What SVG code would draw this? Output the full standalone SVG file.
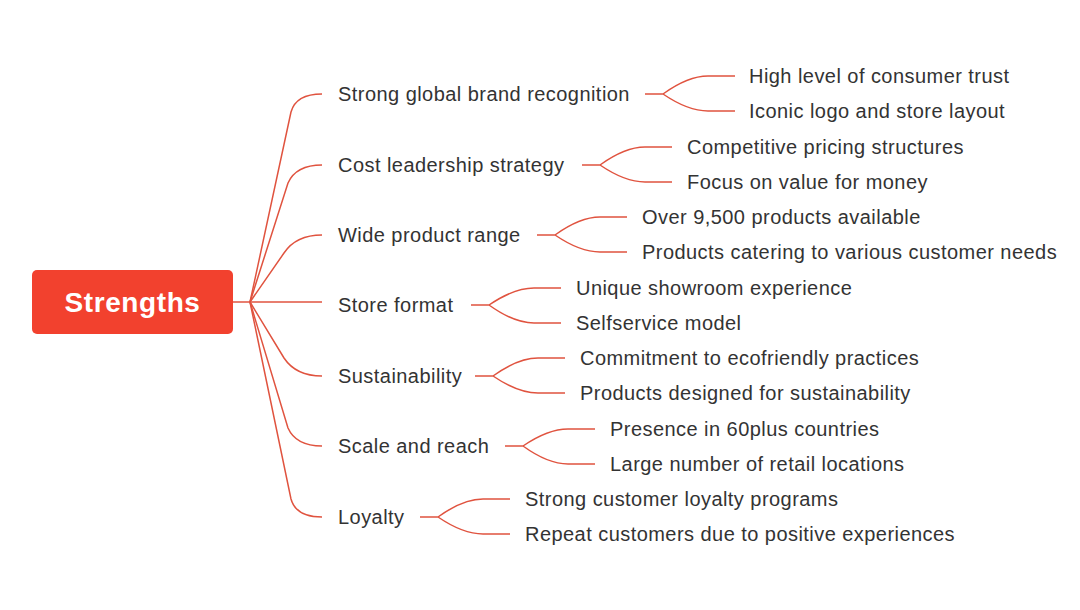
<svg xmlns="http://www.w3.org/2000/svg" width="1080" height="610" viewBox="0 0 1080 610">
<style>
.t{font-family:"Liberation Sans",Arial,sans-serif;font-size:20px;letter-spacing:0.45px;fill:#333}
.c{fill:none;stroke:#e0533f;stroke-width:1.5}
</style>
<rect width="1080" height="610" fill="#fff"/>
<g id="connectors" class="c">
<path d="M233,302 L250,302"/>
<path d="M250,302 L291,112 Q296,94 322,94"/>
<path d="M250,302 L288,183 Q296,165 322,165"/>
<path d="M250,302 L284,253 Q296,235 322,235"/>
<path d="M250,302 L322,302"/>
<path d="M250,302 L284,358 Q296,376 322,376"/>
<path d="M250,302 L288,428 Q296,446 322,446"/>
<path d="M250,302 L291,499 Q296,517 322,517"/>
<path d="M645,94 H663 Q688,76 708,76 H735 M663,94 Q688,111 708,111 H735"/>
<path d="M582,165 H600 Q625,147 645,147 H672 M600,165 Q625,182 645,182 H672"/>
<path d="M537,235 H555 Q580,217 600,217 H627 M555,235 Q580,252 600,252 H627"/>
<path d="M471,305 H489 Q514,288 534,288 H561 M489,305 Q514,323 534,323 H561"/>
<path d="M475,376 H493 Q518,358 538,358 H565 M493,376 Q518,393 538,393 H565"/>
<path d="M505,446 H523 Q548,429 568,429 H595 M523,446 Q548,464 568,464 H595"/>
<path d="M420,517 H438 Q463,499 483,499 H510 M438,517 Q463,534 483,534 H510"/>
</g>
<g id="root"><rect x="32" y="270" width="201" height="64" rx="5" fill="#f2412e"/>
<text x="132.5" y="312" text-anchor="middle" style="font-family:'Liberation Sans',Arial,sans-serif;font-size:28px;letter-spacing:0.6px;font-weight:bold;fill:#fff">Strengths</text></g>
<g id="b1"><text class="t" x="338" y="101">Strong global brand recognition</text>
<text class="t" x="749" y="83">High level of consumer trust</text>
<text class="t" x="749" y="118">Iconic logo and store layout</text></g>
<g id="b2"><text class="t" x="338" y="172">Cost leadership strategy</text>
<text class="t" x="687" y="154">Competitive pricing structures</text>
<text class="t" x="687" y="189">Focus on value for money</text></g>
<g id="b3"><text class="t" x="338" y="242">Wide product range</text>
<text class="t" x="642" y="224">Over 9,500 products available</text>
<text class="t" x="642" y="259">Products catering to various customer needs</text></g>
<g id="b4"><text class="t" x="338" y="312">Store format</text>
<text class="t" x="576" y="295">Unique showroom experience</text>
<text class="t" x="576" y="330">Selfservice model</text></g>
<g id="b5"><text class="t" x="338" y="383">Sustainability</text>
<text class="t" x="580" y="365">Commitment to ecofriendly practices</text>
<text class="t" x="580" y="400">Products designed for sustainability</text></g>
<g id="b6"><text class="t" x="338" y="453">Scale and reach</text>
<text class="t" x="610" y="436">Presence in 60plus countries</text>
<text class="t" x="610" y="471">Large number of retail locations</text></g>
<g id="b7"><text class="t" x="338" y="524">Loyalty</text>
<text class="t" x="525" y="506">Strong customer loyalty programs</text>
<text class="t" x="525" y="541">Repeat customers due to positive experiences</text></g>
</svg>
